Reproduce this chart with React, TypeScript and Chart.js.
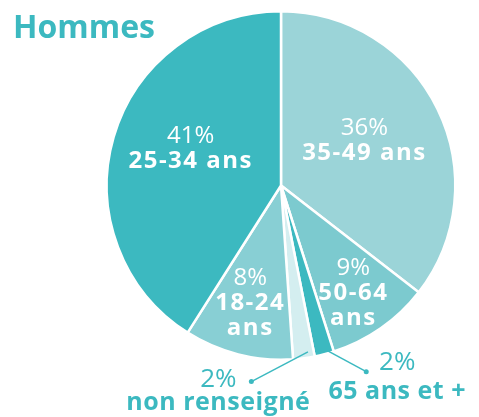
import React, { useEffect, useRef } from "react";
import { Chart, registerables } from "chart.js";

Chart.register(...registerables);

const categories = ["35-49 ans", "50-64 ans", "65 ans et +", "non renseigné", "18-24 ans", "25-34 ans"];
// slice shares as drawn in the picture
const values = [35.5, 9.6, 1.8, 2.0, 10.1, 41.0];
const pctLabels = ["36%", "9%", "2%", "2%", "8%", "41%"];
const nameLines = [["35-49 ans"], ["50-64", "ans"], ["65 ans et +"], ["non renseigné"], ["18-24", "ans"], ["25-34 ans"]];
const colors = ["#9bd4d8", "#7ccacf", "#3cb9c0", "#d4eef0", "#88cfd4", "#3cb9c0"];
const TITLE = "Hommes";

const TEAL = "#3cb9c0";
const FONT = "'Open Sans', 'Noto Sans', sans-serif";

// placement: inside labels -> angle (deg) + radius fraction; outside -> leader line
const inside = [
  { i: 0, ang: -29.5, r: 0.55 },
  { i: 1, ang: 55.6, r: 0.735 },
  { i: 4, ang: 104.9, r: 0.687 },
  { i: 5, ang: 203.5, r: 0.565 },
];
const outside = [
  { i: 3, a0: 80.8, r0: 0.967, a1: 98.6, r1: 1.138, tx: -33, py: 5, ny: 28 },
  { i: 2, a0: 74.2, r0: 0.986, a1: 65.4, r1: 1.175, tx: 31, py: -2, ny: 27 },
];

const labelPlugin = {
  id: "labels",
  afterDraw(chart: any) {
    const ctx = chart.ctx;
    const meta = chart.getDatasetMeta(0);
    const arc0 = meta.data[0];
    const cx = arc0.x, cy = arc0.y, R = arc0.outerRadius;
    const pt = (a: number, r: number) => {
      const rad = (a * Math.PI) / 180;
      return [cx + Math.cos(rad) * R * r, cy + Math.sin(rad) * R * r];
    };
    ctx.save();
    // title
    ctx.fillStyle = TEAL;
    ctx.font = `700 32px ${FONT}`;
    ctx.textAlign = "left";
    ctx.textBaseline = "alphabetic";
    ctx.fillText(TITLE, 13, 38);

    ctx.textAlign = "center";
    ctx.fillStyle = "#ffffff";
    for (const p of inside) {
      const [x, y] = pt(p.ang, p.r);
      const lines = [pctLabels[p.i], ...nameLines[p.i]];
      const lh = 25;
      const top = y - ((lines.length - 1) * lh) / 2;
      lines.forEach((t, k) => {
        ctx.font = k === 0 ? `400 24px ${FONT}` : `700 24px ${FONT}`;
        (ctx as any).letterSpacing = k === 0 ? "0px" : "1.5px";
        ctx.fillText(t, x, top + k * lh + 9);
      });
    }
    (ctx as any).letterSpacing = "0px";
    for (const p of outside) {
      const [x0, y0] = pt(p.a0, p.r0);
      const [x1, y1] = pt(p.a1, p.r1);
      ctx.strokeStyle = TEAL;
      ctx.fillStyle = TEAL;
      ctx.lineWidth = 1.5;
      ctx.beginPath();
      ctx.moveTo(x0, y0);
      ctx.lineTo(x1, y1);
      ctx.stroke();
      ctx.beginPath();
      ctx.arc(x1, y1, 2.5, 0, Math.PI * 2);
      ctx.fill();
      const tx = x1 + p.tx;
      (ctx as any).letterSpacing = "0px";
      ctx.font = `400 26px ${FONT}`;
      ctx.fillText(pctLabels[p.i], tx, y1 + p.py);
      (ctx as any).letterSpacing = "0.5px";
      ctx.font = `700 25px ${FONT}`;
      ctx.fillText(nameLines[p.i][0], tx, y1 + p.ny);
    }
    ctx.restore();
  },
};

export default function App() {
  const ref = useRef<HTMLCanvasElement>(null);
  useEffect(() => {
    const chart = new Chart(ref.current!, {
      type: "pie",
      data: {
        labels: categories,
        datasets: [
          {
            data: values,
            backgroundColor: colors,
            borderColor: "#ffffff",
            borderWidth: 2.5,
          },
        ],
      },
      options: {
        responsive: false,
        animation: false,
        layout: { padding: { left: 105.5, right: 22.5, top: 10, bottom: 56 } },
        plugins: { legend: { display: false }, tooltip: { enabled: false } },
      },
      plugins: [labelPlugin],
    });
    return () => chart.destroy();
  }, []);
  return (
    <div style={{ position: "fixed", left: 0, top: 0, width: 479, height: 417, background: "#fff" }}>
      <canvas ref={ref} width={479} height={417} />
    </div>
  );
}
